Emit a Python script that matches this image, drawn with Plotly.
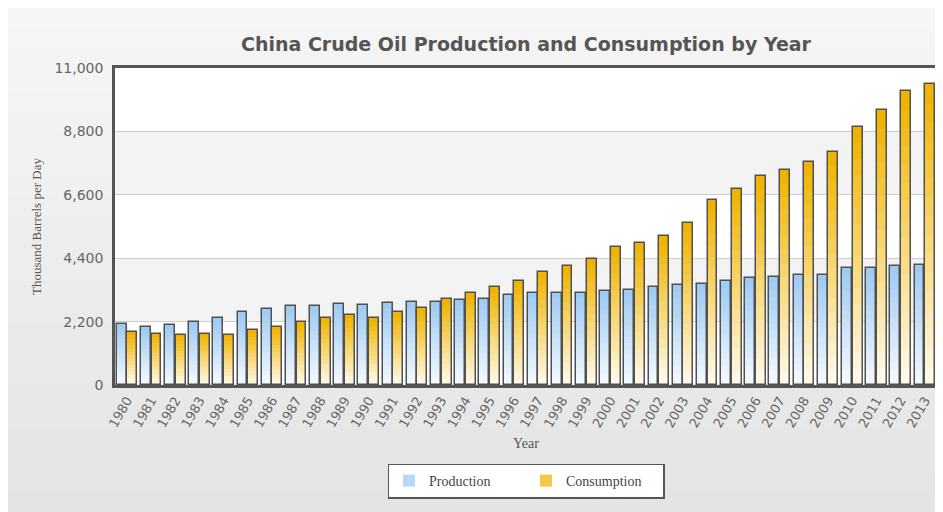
import plotly.graph_objects as go

years = [str(y) for y in range(1980, 2014)]
production = [2131, 2017, 2086, 2190, 2339, 2536, 2640, 2744, 2750, 2803, 2780,
              2829, 2887, 2890, 2933, 2980, 3131, 3189, 3189, 3195, 3248,
              3306, 3398, 3457, 3503, 3607, 3712, 3761, 3806, 3806, 4061,
              4061, 4120, 4180]
consumption = [1833, 1786, 1730, 1786, 1750, 1913, 2028, 2190, 2339, 2443, 2320,
               2526, 2677, 2968, 3189, 3387, 3597, 3911, 4120, 4365, 4784,
               4935, 5157, 5611, 6436, 6809, 7263, 7473, 7728, 8090, 8964,
               9533, 10196, 10451]
y_ticks = [0, 2200, 4400, 6600, 8800, 11000]

def lerp(c1, c2, t):
    return "rgb(%d,%d,%d)" % tuple(round(a + (b - a) * t) for a, b in zip(c1, c2))

series = [
    ("Production", production, (158, 203, 242), (244, 249, 255), -0.43),
    ("Consumption", consumption, (240, 180, 0), (255, 249, 232), 0.01),
]
W = 0.41
N = 16
fig = go.Figure()
for name, vals, top, bot, off in series:
    for i in range(N):
        f = 1 - i / N
        fig.add_trace(go.Bar(
            x=years, y=[v * f for v in vals], offset=off, width=W,
            marker=dict(color=lerp(top, bot, i / (N - 1)), line=dict(width=0)),
            showlegend=False, hoverinfo="skip",
        ))
    fig.add_trace(go.Bar(
        x=years, y=vals, offset=off, width=W, name=name,
        marker=dict(color="rgba(0,0,0,0)", line=dict(color="#505050", width=1.5)),
        showlegend=False,
    ))
    # legend proxy
    fig.add_trace(go.Bar(
        x=[None], y=[None], name=name,
        marker=dict(color=lerp(top, bot, 0.3), line=dict(width=0)),
        showlegend=True,
    ))

FW, FH = 935, 504
MT, MB, ML, MR = 60, 127, 107, 6
PH = FH - MT - MB
shapes = []
# paper gradient background
NB = 24
for i in range(NB):
    shapes.append(dict(type="rect", xref="paper", yref="paper",
                       x0=-0.2, x1=1.2,
                       y0=1 + MT/PH - (i + 1) * (FH/PH) / NB - 0.001,
                       y1=1 + MT/PH - i * (FH/PH) / NB,
                       fillcolor=lerp((246, 246, 246), (228, 228, 228), i / (NB - 1)),
                       line=dict(width=0), layer="below"))
# plot bands
for k in range(len(y_ticks) - 1):
    shapes.append(dict(type="rect", xref="x domain", yref="y",
                       x0=0, x1=1, y0=y_ticks[k], y1=y_ticks[k + 1],
                       fillcolor="#ffffff" if k % 2 == 0 else "#f3f3f3",
                       line=dict(width=0), layer="below"))

fig.update_layout(
    width=FW, height=FH,
    margin=dict(l=ML, r=MR, t=MT, b=MB, autoexpand=False),
    paper_bgcolor="#ececec", plot_bgcolor="#ffffff",
    barmode="overlay", bargap=0,
    shapes=shapes,
    title=dict(text="<b>China Crude Oil Production and Consumption by Year</b>",
               x=0.5, xref="paper", xanchor="center", y=1 - 36/FH, yanchor="middle",
               font=dict(family="DejaVu Sans", size=19, color="#555555")),
    legend=dict(orientation="h", x=0.5, xanchor="center", y=(377 - 473) / PH, yanchor="middle",
                bgcolor="#ffffff", bordercolor="#555555", borderwidth=1.5,
                font=dict(family="Liberation Serif", size=14, color="#444444"),
                entrywidth=92, itemsizing="constant"),
    font=dict(family="DejaVu Sans", color="#666666"),
)
fig.update_xaxes(
    type="category", tickangle=-60, tickfont=dict(size=13, color="#666666"),
    showline=True, mirror=True, linecolor="#555555", linewidth=2.5,
    showgrid=False, ticks="", automargin=False,
    title=dict(text="Year", font=dict(family="Liberation Serif", size=14, color="#555555"),
               standoff=9),
)
fig.update_yaxes(
    range=[0, 11000], tickvals=y_ticks, tickformat=",",
    tickfont=dict(size=14, color="#666666"), ticklabelstandoff=6,
    showline=True, mirror=True, linecolor="#555555", linewidth=2.5,
    gridcolor="#cccccc", gridwidth=1, zeroline=False, ticks="", automargin=False,
    title=dict(text="Thousand Barrels per Day",
               font=dict(family="Liberation Serif", size=13, color="#555555"),
               standoff=10),
)
fig.write_html("out.html")
